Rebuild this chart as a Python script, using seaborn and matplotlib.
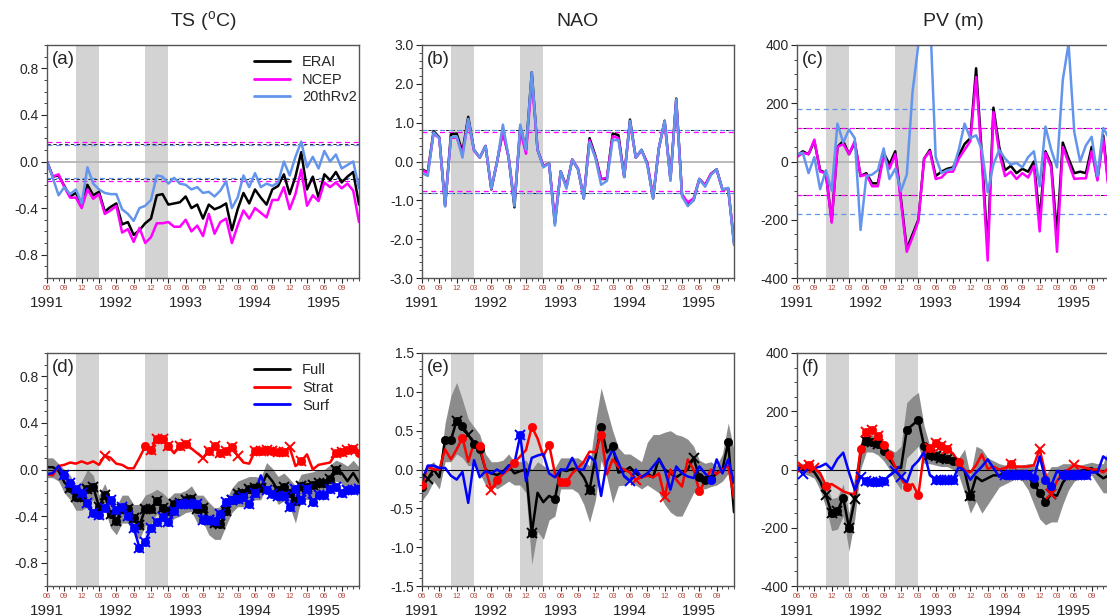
"""
TS / NAO / PV anomaly time series, 1991-06 .. 1995-12 (reanalyses and experiments)
"""
import numpy as np
import pandas as pd
import matplotlib
matplotlib.use('Agg')
import matplotlib.pyplot as plt
from matplotlib.ticker import MultipleLocator, FormatStrFormatter
import seaborn as sns

# ── axis data ──
months = np.arange(55)                      # 0 = Jun 1991, 54 = Dec 1995
month_ticks = np.arange(0, 52, 3)
month_labels = ['06', '09', '12', '03'] * 4 + ['06', '09']
year_pos = [0, 12, 24, 36, 48]
year_labels = ['1991', '1992', '1993', '1994', '1995']
winters = [(5, 9), (17, 21)]                # NDJFM shading

# ── top row: reanalyses ──
ts_erai = [0.00, -0.13, -0.12, -0.21, -0.30, -0.27, -0.37, -0.20, -0.29, -0.26,
           -0.43, -0.39, -0.36, -0.54, -0.52, -0.63, -0.59, -0.53, -0.49, -0.29,
           -0.28, -0.37, -0.36, -0.35, -0.30, -0.40, -0.37, -0.49, -0.37, -0.41,
           -0.39, -0.36, -0.59, -0.41, -0.27, -0.36, -0.24, -0.31, -0.37, -0.24,
           -0.21, -0.11, -0.28, -0.13, 0.08, -0.24, -0.13, -0.31, -0.11, -0.16,
           -0.09, -0.18, -0.13, -0.09, -0.37]
ts_ncep = [0.00, -0.13, -0.11, -0.22, -0.31, -0.31, -0.40, -0.24, -0.32, -0.28,
           -0.45, -0.42, -0.38, -0.61, -0.58, -0.69, -0.57, -0.70, -0.65, -0.53,
           -0.53, -0.52, -0.56, -0.56, -0.50, -0.60, -0.55, -0.64, -0.45, -0.62,
           -0.52, -0.49, -0.70, -0.55, -0.42, -0.49, -0.40, -0.44, -0.48, -0.33,
           -0.33, -0.22, -0.41, -0.28, -0.07, -0.38, -0.29, -0.34, -0.18, -0.22,
           -0.18, -0.23, -0.19, -0.25, -0.52]
ts_20c = [0.00, -0.14, -0.29, -0.22, -0.28, -0.24, -0.36, -0.05, -0.19, -0.24,
          -0.27, -0.28, -0.28, -0.41, -0.45, -0.51, -0.40, -0.38, -0.33, -0.12,
          -0.13, -0.19, -0.14, -0.19, -0.20, -0.24, -0.22, -0.27, -0.26, -0.30,
          -0.25, -0.17, -0.40, -0.31, -0.12, -0.22, -0.10, -0.22, -0.19, -0.21,
          -0.18, 0.00, -0.12, 0.04, 0.17, -0.05, 0.04, -0.06, 0.09, 0.00,
          0.06, -0.06, -0.03, 0.00, -0.23]
ts_thresh = [0.15, 0.17, 0.145]

nao_erai = [-0.20, -0.28, 0.78, 0.62, -1.15, 0.70, 0.72, 0.25, 1.15, 0.30,
            0.10, 0.40, -0.72, 0.00, 0.80, 0.10, -1.18, 0.90, 0.30, 2.30,
            0.30, -0.12, -0.05, -1.60, -0.25, -0.65, 0.05, -0.20, -0.95, 0.60,
            0.15, -0.45, -0.45, 0.72, 0.68, -0.40, 1.08, 0.10, 0.30, -0.05,
            -0.95, 0.35, 1.05, -0.45, 1.62, -0.85, -1.10, -1.00, -0.45, -0.62,
            -0.32, -0.20, -0.72, -0.70, -2.10]
nao_ncep = [-0.22, -0.30, 0.72, 0.60, -1.12, 0.60, 0.62, 0.20, 1.05, 0.28,
            0.10, 0.40, -0.70, 0.00, 0.75, 0.10, -1.05, 0.80, 0.20, 2.10,
            0.30, -0.12, -0.05, -1.50, -0.28, -0.65, 0.05, -0.18, -0.92, 0.55,
            0.12, -0.45, -0.42, 0.65, 0.60, -0.38, 1.00, 0.10, 0.28, -0.05,
            -0.90, 0.35, 1.00, -0.45, 1.55, -0.85, -1.05, -0.95, -0.45, -0.60,
            -0.32, -0.22, -0.72, -0.70, -2.05]
nao_20c = [-0.30, -0.37, 0.75, 0.60, -1.15, 0.62, 0.65, 0.10, 1.10, 0.30,
           0.10, 0.40, -0.70, 0.00, 0.95, 0.10, -1.15, 0.95, 0.30, 2.30,
           0.30, -0.15, -0.05, -1.65, -0.25, -0.70, 0.05, -0.20, -0.95, 0.50,
           0.10, -0.60, -0.50, 0.55, 0.55, -0.40, 1.05, 0.10, 0.30, -0.10,
           -0.95, 0.35, 1.05, -0.50, 1.60, -0.90, -1.15, -1.00, -0.45, -0.65,
           -0.35, -0.20, -0.72, -0.68, -2.15]
nao_thresh = [0.80, 0.75, 0.80]

pv_erai = [20, 35, 25, 70, -30, -40, -205, 50, 70, 25,
           65, -50, -40, -75, -75, 30, -10, 35, -130, -300,
           -250, -200, 10, 40, -50, -35, -25, -20, 20, 60,
           80, 320, 20, -300, 185, 50, -30, -15, -40, -25,
           -35, 0, -200, 35, -10, -250, 65, 10, -40, -35,
           -40, 50, -60, 90, -100]
pv_ncep = [15, 30, 25, 75, -35, -40, -210, 50, 60, 25,
           70, -50, -45, -85, -85, 20, -25, 25, -140, -310,
           -260, -205, 10, 35, -60, -55, -35, -35, 10, 40,
           70, 290, 0, -340, 170, 30, -50, -35, -60, -40,
           -55, -15, -240, 30, -20, -310, 50, -5, -60, -58,
           -58, 35, -65, 80, -110]
pv_20c = [25, 30, -40, 15, -95, -30, -100, 130, 65, 110,
          80, -235, -50, -45, -30, 45, -60, -25, -100, -45,
          240, 400, 650, 515, 15, -40, -30, -25, 40, 130,
          80, 90, 40, -105, -10, 40, 10, -10, -5, -20,
          15, 35, -85, 120, 40, -20, 280, 405, 100, 0,
          55, 85, -50, 115, 80]
pv_thresh = [115, 115, 180]

# ── bottom row: experiments ──
ts_full = [0.02, 0.02, -0.01, -0.11, -0.16, -0.24, -0.24, -0.17, -0.15, -0.32,
           -0.22, -0.38, -0.44, -0.34, -0.34, -0.42, -0.48, -0.34, -0.34, -0.27,
           -0.33, -0.36, -0.30, -0.29, -0.26, -0.25, -0.34, -0.33, -0.43, -0.46,
           -0.47, -0.36, -0.26, -0.21, -0.20, -0.17, -0.16, -0.16, -0.04, -0.10,
           -0.18, -0.15, -0.20, -0.27, -0.14, -0.15, -0.13, -0.12, -0.12, -0.08,
           0.00, -0.03, -0.10, -0.03, -0.11]
ts_full_hi = [0.10, 0.10, 0.05, 0.00, -0.05, -0.14, -0.10, 0.00, -0.05, -0.22,
              -0.12, -0.25, -0.32, -0.22, -0.22, -0.30, -0.30, -0.22, -0.20, -0.17,
              -0.20, -0.25, -0.20, -0.20, -0.18, -0.14, -0.22, -0.22, -0.28, -0.33,
              -0.32, -0.26, -0.16, -0.10, -0.08, -0.06, -0.06, -0.07, 0.06, 0.01,
              -0.06, -0.03, -0.08, -0.14, -0.04, -0.03, -0.02, 0.00, 0.00, 0.04,
              0.08, 0.06, 0.03, 0.08, 0.02]
ts_full_lo = [-0.07, -0.07, -0.10, -0.20, -0.26, -0.35, -0.35, -0.32, -0.26, -0.42,
              -0.34, -0.50, -0.56, -0.46, -0.46, -0.55, -0.60, -0.48, -0.47, -0.38,
              -0.44, -0.48, -0.42, -0.40, -0.37, -0.36, -0.46, -0.45, -0.56, -0.60,
              -0.60, -0.48, -0.37, -0.32, -0.32, -0.28, -0.26, -0.26, -0.14, -0.20,
              -0.30, -0.27, -0.32, -0.46, -0.25, -0.26, -0.24, -0.23, -0.23, -0.19,
              -0.10, -0.12, -0.22, -0.13, -0.22]
ts_strat = [-0.04, -0.05, 0.03, 0.04, 0.06, 0.05, 0.07, 0.05, 0.07, 0.04,
            0.12, 0.10, 0.05, 0.04, 0.01, 0.01, 0.10, 0.20, 0.17, 0.26,
            0.26, 0.20, 0.14, 0.20, 0.22, 0.18, 0.14, 0.10, 0.16, 0.20,
            0.14, 0.16, 0.19, 0.12, 0.06, 0.05, 0.16, 0.16, 0.17, 0.16,
            0.15, 0.15, 0.19, 0.03, 0.07, 0.13, 0.00, 0.04, 0.05, 0.06,
            0.14, 0.15, 0.17, 0.18, 0.14]
ts_surf = [-0.04, -0.03, 0.03, -0.05, -0.12, -0.17, -0.20, -0.29, -0.37, -0.39,
           -0.33, -0.26, -0.35, -0.32, -0.40, -0.50, -0.67, -0.62, -0.50, -0.45,
           -0.41, -0.45, -0.36, -0.30, -0.30, -0.30, -0.30, -0.43, -0.43, -0.44,
           -0.38, -0.28, -0.26, -0.25, -0.24, -0.30, -0.20, -0.05, -0.18, -0.21,
           -0.23, -0.23, -0.32, -0.17, -0.26, -0.17, -0.28, -0.22, -0.22, -0.17,
           -0.15, -0.20, -0.18, -0.18, -0.17]

nao_full = [-0.22, -0.12, 0.00, -0.10, 0.38, 0.38, 0.63, 0.56, 0.45, 0.33,
            0.26, 0.00, -0.05, -0.07, -0.03, 0.05, -0.05, -0.02, 0.00, -0.82,
            -0.30, -0.42, -0.34, -0.38, 0.00, -0.02, 0.01, 0.00, -0.10, -0.26,
            0.15, 0.55, 0.22, 0.30, -0.04, -0.02, 0.03, -0.05, -0.10, -0.05,
            -0.10, 0.14, 0.00, -0.05, -0.10, -0.05, 0.00, 0.15, -0.10, -0.13,
            -0.12, -0.05, 0.00, 0.35, -0.55]
nao_full_hi = [-0.10, 0.05, 0.10, 0.00, 0.60, 0.95, 1.12, 0.90, 0.65, 0.55,
               0.45, 0.20, 0.10, 0.10, 0.12, 0.20, 0.10, 0.10, 0.12, 0.00,
               0.10, 0.05, 0.00, 0.02, 0.15, 0.15, 0.15, 0.15, 0.10, 0.05,
               0.60, 1.05, 0.77, 0.50, 0.28, 0.20, 0.20, 0.15, 0.10, 0.35,
               0.45, 0.45, 0.48, 0.50, 0.45, 0.43, 0.39, 0.30, 0.12, 0.08,
               0.10, 0.05, 0.20, 0.60, 0.25]
nao_full_lo = [-0.40, -0.30, -0.15, -0.25, 0.10, 0.10, 0.20, 0.15, 0.05, 0.05,
               -0.05, -0.20, -0.20, -0.25, -0.20, -0.15, -0.20, -0.20, -0.30, -1.22,
               -0.80, -0.90, -0.65, -0.60, -0.25, -0.25, -0.25, -0.30, -0.45, -0.68,
               -0.40, 0.12, -0.10, -0.43, -0.21, -0.20, -0.15, -0.20, -0.25, -0.20,
               -0.25, -0.30, -0.45, -0.55, -0.60, -0.60, -0.45, -0.30, -0.25, -0.25,
               -0.22, -0.20, -0.15, -0.05, -0.55]
nao_strat = [-0.20, 0.04, 0.00, 0.00, 0.26, 0.13, 0.26, 0.41, 0.10, 0.34,
             0.30, 0.00, -0.26, -0.13, -0.06, 0.00, 0.09, 0.17, 0.25, 0.55,
             0.40, 0.17, 0.32, -0.05, -0.16, -0.16, -0.05, 0.02, 0.10, 0.23,
             0.22, 0.45, -0.06, 0.13, 0.03, 0.00, -0.04, -0.13, -0.10, -0.08,
             -0.10, -0.05, -0.36, 0.00, -0.13, -0.22, 0.13, 0.00, -0.28, -0.15,
             0.00, -0.06, 0.00, 0.05, -0.37]
nao_surf = [-0.15, 0.05, 0.05, 0.02, 0.02, -0.08, -0.13, -0.03, -0.43, 0.12,
            -0.10, -0.02, -0.05, 0.00, -0.05, 0.05, 0.08, 0.44, -0.15, 0.15,
            0.18, 0.20, -0.05, -0.10, 0.00, 0.00, 0.15, 0.00, 0.00, 0.17,
            0.10, -0.34, 0.10, 0.26, 0.09, -0.09, -0.15, 0.00, -0.10, -0.05,
            0.04, 0.13, 0.00, -0.26, 0.04, -0.05, -0.09, -0.11, 0.04, -0.05,
            -0.13, 0.13, -0.05, 0.13, -0.17]

pv_full = [10, 3, 0, -9, -40, -88, -150, -143, -97, -200,
           -103, 55, 97, 95, 86, 65, 34, 8, 5, 137,
           153, 171, 80, 51, 45, 40, 35, 28, 12, -5,
           -90, -25, -40, -30, -20, -20, -12, -10, -5, -10,
           -25, -50, -80, -110, -85, -90, -45, -20, -10, -5,
           0, 5, -15, -30, -20]
pv_full_hi = [25, 20, 15, 5, -10, -50, -100, -95, -50, -150,
              -20, 80, 120, 120, 110, 90, 70, 60, 80, 230,
              250, 265, 150, 80, 70, 60, 55, 50, 40, 70,
              -20, 80, 70, 40, 30, 20, 15, 10, 15, 15,
              20, 20, 0, -20, 10, 10, 20, 20, 20, 15,
              20, 25, 20, 20, 80]
pv_full_lo = [-5, -15, -20, -30, -70, -130, -210, -205, -160, -280,
              -170, 0, 60, 60, 50, 30, 0, -40, -70, 40,
              60, 80, 20, 20, 15, 10, 10, 0, -20, -80,
              -150, -110, -150, -120, -90, -60, -50, -40, -30, -40,
              -70, -120, -170, -190, -180, -180, -120, -70, -40, -30,
              -25, -20, -50, -80, -80]
pv_strat = [14, 10, 17, 5, -12, -55, -50, -62, -75, -82,
            -85, 70, 130, 135, 115, 85, 50, 10, -30, -60,
            -50, -88, 60, 75, 90, 80, 70, 55, 25, -3,
            -10, 15, 52, 2, 10, 0, 5, 20, 10, 10,
            10, 15, 70, -15, -85, -40, -10, 0, 15, 10,
            5, 0, 0, -10, 5]
pv_surf = [10, -15, 5, 5, 10, 20, 0, 36, 58, -10,
           -70, -25, -40, -42, -42, -40, -20, -5, -25, -45,
           10, 30, 60, -20, -35, -35, -35, -35, 10, -5,
           -35, -10, 10, 35, 5, -25, -20, -20, -18, -20,
           -20, -30, 45, -35, -55, -5, -20, -20, -20, -20,
           -18, -10, -10, 45, 30]

# significance markers (month indices): circles and crosses
ts_full_o = list(range(4, 38)) + list(range(40, 51))
ts_full_x = ts_full_o
ts_strat_o = [17, 18, 19, 20, 21, 23, 24, 28, 29, 30, 31, 32, 36, 37, 38, 39, 40, 41,
              44, 50, 51, 52, 53, 54]
ts_strat_x = [10, 18, 19, 20, 21, 23, 24, 27, 28, 29, 30, 31, 32, 33, 36, 37, 38, 39,
              40, 41, 42, 44, 50, 51, 52, 53]
ts_surf_o = list(range(3, 37)) + list(range(38, 55))
ts_surf_x = ts_surf_o

nao_full_o = [0, 4, 5, 6, 7, 9, 10, 19, 23, 29, 31, 33, 48, 49, 50, 53]
nao_full_x = [1, 6, 8, 19, 29, 47]
nao_strat_o = [0, 7, 10, 13, 16, 19, 22, 24, 25, 31, 48]
nao_strat_x = [12, 37, 42]
nao_surf_o = [17, 50]
nao_surf_x = [17, 36]

pv_full_o = [6, 7, 8, 9, 12, 13, 14, 15, 19, 21, 22, 23, 24, 25, 26, 27, 30, 41, 42, 43, 47]
pv_full_x = [5, 6, 7, 9, 10, 12, 13, 14, 23, 24, 25, 26, 30, 44]
pv_strat_o = [2, 5, 11, 12, 13, 14, 15, 16, 19, 21, 23, 24, 25, 26, 28, 37]
pv_strat_x = [1, 2, 3, 12, 13, 14, 23, 24, 25, 26, 37, 42, 44, 48]
pv_surf_o = [12, 13, 14, 15, 24, 25, 26, 27, 36, 37, 38, 39, 40, 41, 43, 44, 46, 47, 48,
             49, 50]
pv_surf_x = [1, 11, 12, 13, 14, 15, 17, 18, 24, 25, 26, 27, 36, 37, 38, 39, 40, 46, 47,
             48, 49, 50]

rea_names = ['ERAI', 'NCEP', '20thRv2']
rea_colors = ['black', '#ff00ff', '#6495ed']
thresh_lw = [0.6, 0.9, 0.9]
exp_names = ['Full', 'Strat', 'Surf']
exp_colors = ['black', '#ff0000', '#0000ff']

sns.set_style('ticks')
plt.rcParams['font.family'] = ['Liberation Sans', 'DejaVu Sans']
plt.rcParams['mathtext.default'] = 'regular'

W, H = 1107, 616
fig = plt.figure(figsize=(W / 100, H / 100), dpi=100)

def make_ax(left, top):
    return fig.add_axes([left / W, 1 - (top + 233) / H, 312 / W, 233 / H])

def style_ax(ax, ylim, major, minor, fmt, label):
    ax.set_xlim(0, 54)
    ax.set_ylim(*ylim)
    for a, b in winters:
        ax.axvspan(a, b, color='#d3d3d3', lw=0, zorder=0.5)
    ax.set_xticks(month_ticks, labels=month_labels)
    ax.xaxis.set_minor_locator(MultipleLocator(1))
    ax.tick_params(axis='x', which='major', labelsize=5.5, labelcolor='#b5473a',
                   length=3.5, width=0.8, pad=1.5, direction='out')
    ax.tick_params(axis='x', which='minor', length=2, width=0.6, direction='out')
    ax.yaxis.set_major_locator(MultipleLocator(major))
    ax.yaxis.set_minor_locator(MultipleLocator(minor))
    ax.yaxis.set_major_formatter(FormatStrFormatter(fmt))
    ax.tick_params(axis='y', which='major', labelsize=10, length=4, width=0.8, pad=2)
    ax.tick_params(axis='y', which='minor', length=2, width=0.6)
    for s in ax.spines.values():
        s.set_color('#555555')
        s.set_linewidth(1.0)
    for p, y in zip(year_pos, year_labels):
        ax.text(p, -0.108, y, transform=ax.get_xaxis_transform(), ha='center',
                va='center', fontsize=11)
    ax.text(0.016, 0.975, label, transform=ax.transAxes, ha='left', va='top', fontsize=13.5)
    ax.set_xlabel('')
    ax.set_ylabel('')

def draw_lines(ax, names, colors, values, legend):
    df = pd.DataFrame(dict(zip(names, values)))
    df['month'] = months
    long = df.melt(id_vars='month', var_name='series', value_name='value')
    sns.lineplot(data=long, x='month', y='value', hue='series', hue_order=names,
                 palette=colors, lw=1.8, sort=False, legend=legend, ax=ax, zorder=2)
    if legend:
        h, l = ax.get_legend_handles_labels()
        leg = ax.legend(h, l, loc='upper left', bbox_to_anchor=(0.63, 1.0), frameon=False,
                        fontsize=10.5, handlelength=2.5, handletextpad=0.8,
                        labelspacing=0.25, borderaxespad=0.3)
        for ln in leg.get_lines():
            ln.set_linewidth(2)

def draw_thresh(ax, thresh, colors):
    # thin black first, so an identical reanalysis threshold drawn later hides it
    for t, c, w in zip(thresh, colors, thresh_lw):
        for sgn in (1, -1):
            ax.axhline(sgn * t, color=c, lw=w, ls=(0, (4, 3)), zorder=1)

def draw_marks(ax, vals, circ, cross, color):
    vals = np.asarray(vals)
    sns.scatterplot(x=months[circ], y=vals[circ], color=color, s=36, edgecolor=color,
                    linewidth=0.5, legend=False, ax=ax, zorder=3)
    ax.plot(months[cross], vals[cross], ls='none', marker='x', ms=7, mew=1.4,
            color=color, zorder=3)

# ── top row ──
top_specs = [
    (47, 'TS ($^{o}$C)', [ts_erai, ts_ncep, ts_20c], ts_thresh, (-1, 1), 0.4, 0.1, '%.1f', '(a)'),
    (422, 'NAO', [nao_erai, nao_ncep, nao_20c], nao_thresh, (-3, 3), 1.0, 0.2, '%.1f', '(b)'),
    (797, 'PV (m)', [pv_erai, pv_ncep, pv_20c], pv_thresh, (-400, 400), 200, 50, '%d', '(c)'),
]
for k, (left, title, vals, thresh, ylim, mj, mn, fmt, lab) in enumerate(top_specs):
    ax = make_ax(left, 45)
    ax.axhline(0, color='#b4b4b4', lw=1.3, zorder=1)
    draw_thresh(ax, thresh, rea_colors)
    draw_lines(ax, rea_names, rea_colors, vals, legend=(k == 0))
    style_ax(ax, ylim, mj, mn, fmt, lab)
    ax.set_title(title, fontsize=14, pad=14)

# ── bottom row ──
bot_specs = [
    (47, [ts_full, ts_strat, ts_surf], ts_full_lo, ts_full_hi,
     [(ts_full_o, ts_full_x), (ts_strat_o, ts_strat_x), (ts_surf_o, ts_surf_x)],
     (-1, 1), 0.4, 0.1, '%.1f', '(d)'),
    (422, [nao_full, nao_strat, nao_surf], nao_full_lo, nao_full_hi,
     [(nao_full_o, nao_full_x), (nao_strat_o, nao_strat_x), (nao_surf_o, nao_surf_x)],
     (-1.5, 1.5), 0.5, 0.1, '%.1f', '(e)'),
    (797, [pv_full, pv_strat, pv_surf], pv_full_lo, pv_full_hi,
     [(pv_full_o, pv_full_x), (pv_strat_o, pv_strat_x), (pv_surf_o, pv_surf_x)],
     (-400, 400), 200, 50, '%d', '(f)'),
]
for k, (left, vals, lo, hi, marks, ylim, mj, mn, fmt, lab) in enumerate(bot_specs):
    ax = make_ax(left, 353)
    ax.fill_between(months, lo, hi, color='#8c8c8c', lw=0, zorder=1.5)
    ax.axhline(0, color='black', lw=0.8, zorder=1.8)
    draw_lines(ax, exp_names, exp_colors, vals, legend=(k == 0))
    for v, (o, x), c in zip(vals, marks, exp_colors):
        draw_marks(ax, v, o, x, c)
    style_ax(ax, ylim, mj, mn, fmt, lab)

fig.savefig('out.png', dpi=100)
